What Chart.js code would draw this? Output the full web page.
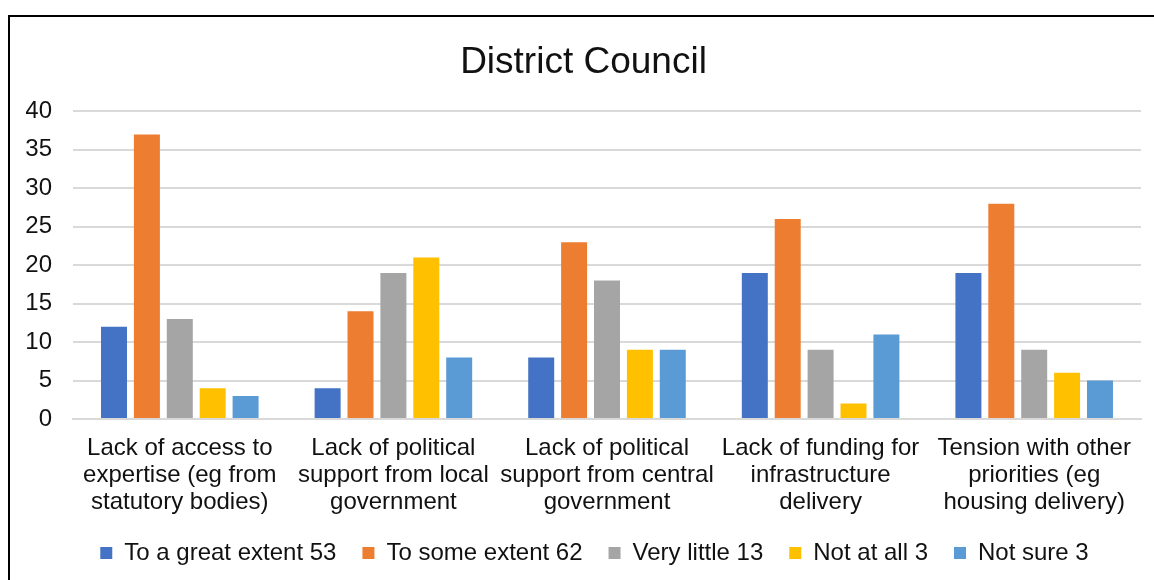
<!DOCTYPE html>
<html>
<head>
<meta charset="utf-8">
<script src="https://cdn.jsdelivr.net/npm/chart.js@4/dist/chart.umd.min.js"></script>
<style>
  html, body { margin: 0; padding: 0; background: #fff; }
  #wrap { position: relative; width: 1154px; height: 580px; overflow: hidden; }
  #frame { position: absolute; left: 8px; top: 15px; width: 1200px; height: 700px;
           border-left: 2px solid #000; border-top: 2px solid #000; box-sizing: border-box; }
  canvas { position: absolute; left: 0; top: 0; }
</style>
</head>
<body>
<div id="wrap">
  <div id="frame"></div>
  <canvas id="chart" width="1154" height="580"></canvas>
</div>
<script>
// categories (multi-line labels as in the original)
const categories = [
  ["Lack of access to", "expertise (eg from", "statutory bodies)"],
  ["Lack of political", "support from local", "government"],
  ["Lack of political", "support from central", "government"],
  ["Lack of funding for", "infrastructure", "delivery"],
  ["Tension with other", "priorities (eg", "housing delivery)"]
];

const seriesNames = ["To a great extent 53", "To some extent 62", "Very little 13", "Not at all 3", "Not sure 3"];
const seriesColors = ["#4472C4", "#ED7D31", "#A5A5A5", "#FFC000", "#5B9BD5"];

const greatExtent = [12, 4, 8, 19, 19];
const someExtent = [37, 14, 23, 26, 28];
const veryLittle = [13, 19, 18, 9, 9];
const notAtAll = [4, 21, 9, 2, 6];
const notSure = [3, 8, 9, 11, 5];

const seriesValues = [greatExtent, someExtent, veryLittle, notAtAll, notSure];

const font = "'Liberation Sans', Arial, sans-serif";
Chart.defaults.font.family = font;
Chart.defaults.color = "#111";

// legend sits a little right of centre in the original
const legendShift = {
  id: "legendShift",
  afterLayout(chart) {
    chart.legend.left += 11;
    chart.legend.right += 11;
  }
};

const ctx = document.getElementById("chart").getContext("2d");
new Chart(ctx, {
  type: "bar",
  data: {
    labels: categories,
    datasets: seriesNames.map((name, i) => ({
      label: name,
      data: seriesValues[i],
      backgroundColor: seriesColors[i],
      categoryPercentage: 0.77,
      barPercentage: 0.79
    }))
  },
  plugins: [legendShift],
  options: {
    responsive: false,
    animation: false,
    layout: { padding: { left: 26, right: 13, top: 41, bottom: 5 } },
    plugins: {
      title: {
        display: true,
        text: "District Council",
        font: { size: 37, weight: "normal", family: font, lineHeight: 1.2 },
        color: "#111",
        padding: { top: 0, bottom: 26 }
      },
      legend: {
        position: "bottom",
        labels: {
          boxWidth: 12,
          boxHeight: 12,
          padding: 26,
          font: { size: 24 },
          color: "#111"
        }
      },
      tooltip: { enabled: false }
    },
    scales: {
      x: {
        grid: { display: false, drawTicks: false },
        border: { color: "#d9d9d9", width: 2 },
        ticks: { font: { size: 24, lineHeight: 1.125 }, color: "#111", padding: 16, maxRotation: 0, autoSkip: false },
        afterFit: (s) => { s.height = 96; }
      },
      y: {
        min: 0,
        max: 40,
        ticks: { stepSize: 5, font: { size: 24 }, color: "#111", padding: 21 },
        grid: { color: "#d9d9d9", lineWidth: 2, drawTicks: false },
        border: { display: false },
        afterFit: (s) => { s.width = 47; }
      }
    }
  }
});
</script>
</body>
</html>
